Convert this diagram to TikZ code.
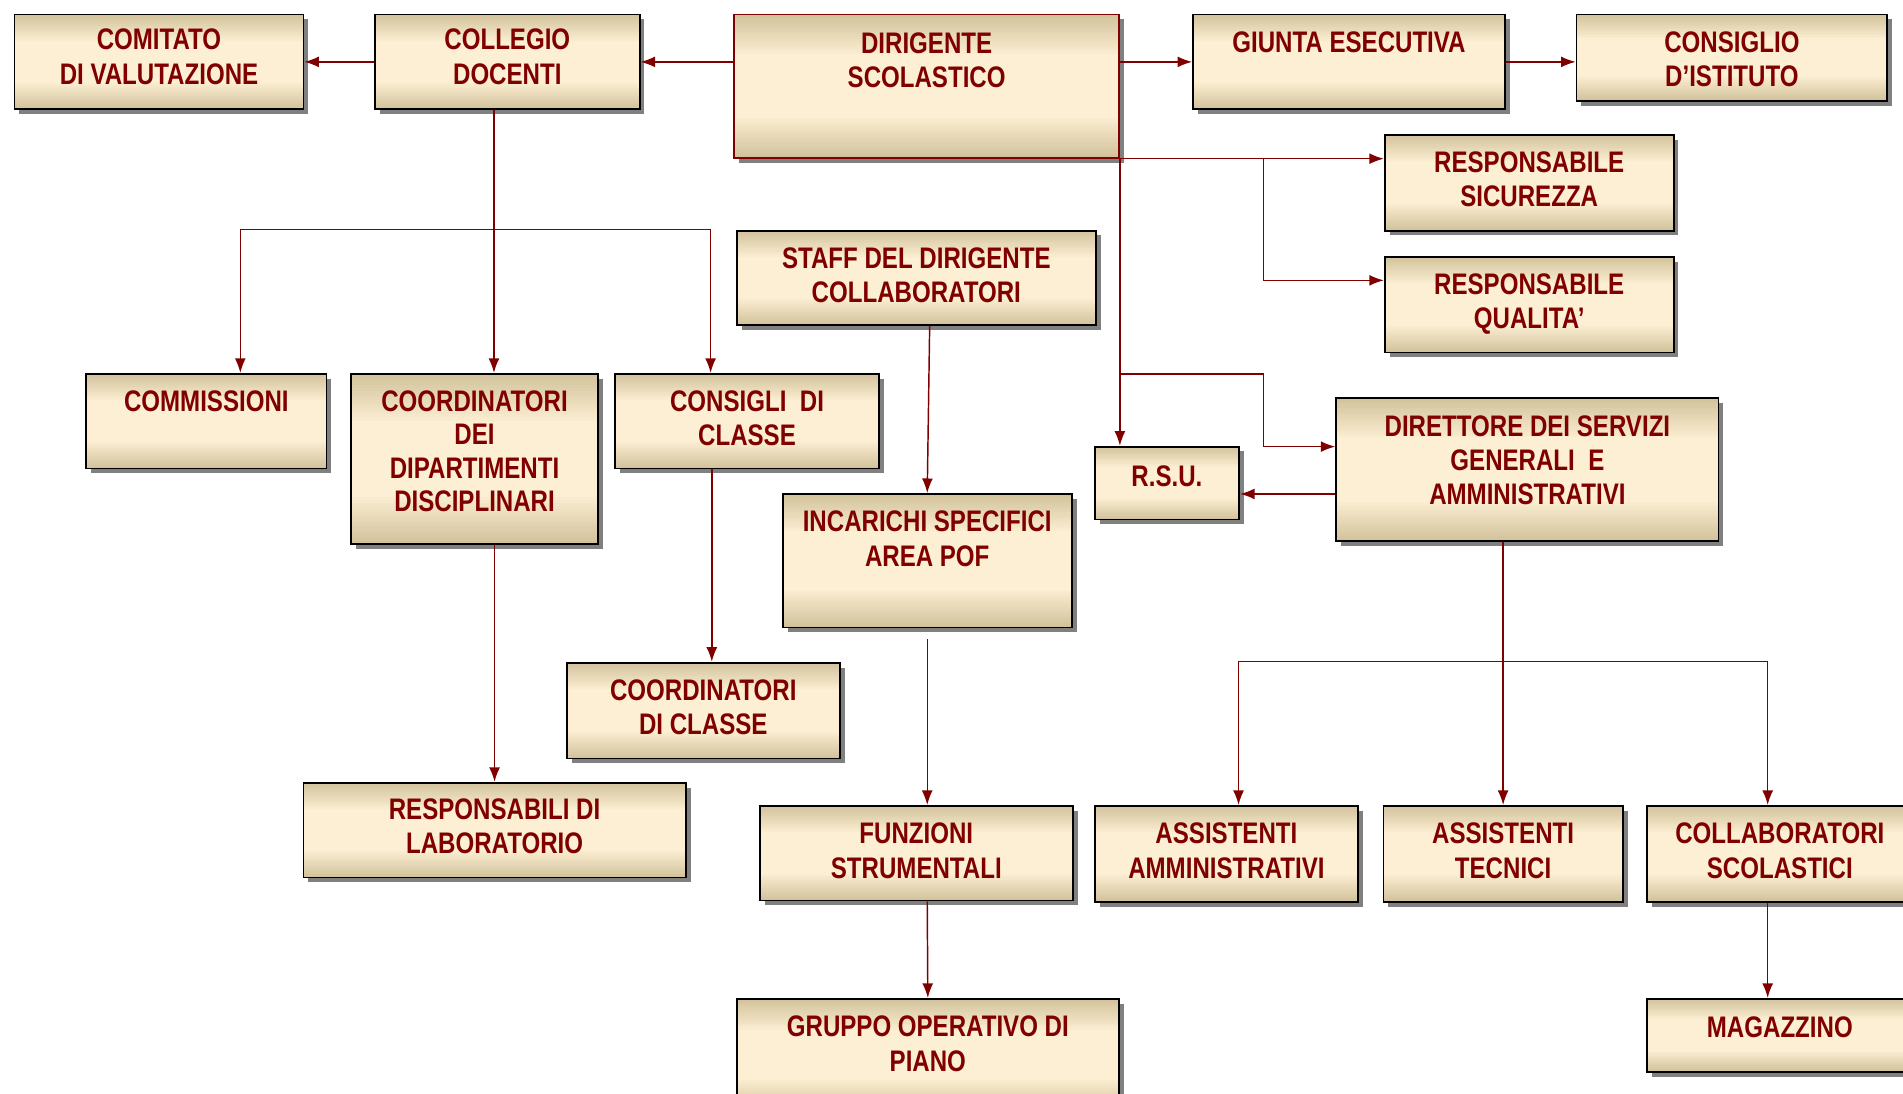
\documentclass[tikz,border=0pt]{standalone}
\usepackage{fontspec}
\setmainfont{Liberation Sans}[FakeStretch=0.81]
\usetikzlibrary{arrows.meta,shadows,positioning,calc}
\definecolor{bordeaux}{HTML}{800000}
\definecolor{crema}{HTML}{FCEFD3}
\definecolor{sabbia}{HTML}{D3C39D}

\begin{document}
\begin{tikzpicture}[x=1pt,y=-1pt,->,>={Latex[length=12pt,width=9pt]},
                    line width=1.2pt,bordeaux]
  \tikzstyle{ente}=[draw=black,line width=1.5pt,inner sep=0pt,fill=crema,
                    path picture={
                      \foreach \i in {0,...,15}{
                        \pgfmathsetmacro\pa{\i*0.017}
                        \pgfmathsetmacro\pb{\pa+0.02}
                        \pgfmathtruncatemacro\pc{100-\i*6}
                        \fill[sabbia!\pc!crema]
                          ($(path picture bounding box.north west)!\pa!(path picture bounding box.south west)$) rectangle
                          ($(path picture bounding box.north east)!\pb!(path picture bounding box.south east)$);
                        \fill[sabbia!\pc!crema]
                          ($(path picture bounding box.south west)!\pa!(path picture bounding box.north west)$) rectangle
                          ($(path picture bounding box.south east)!\pb!(path picture bounding box.north east)$);
                      }},
                    drop shadow={shadow xshift=4pt,shadow yshift=-4pt,fill=black!50,opacity=1}]
  \tikzstyle{dicitura}=[inner sep=0pt,align=center,text=bordeaux,
                        font=\bfseries\fontsize{24.5}{28.5}\selectfont]

  \clip (0,0) rectangle (1568,901);

  % prima fila
  \node[ente,minimum width=238pt,minimum height=78pt]  (com)   at (131,51)     {};
  \node[dicitura,below=12pt of com.north]   (com-t)   {COMITATO\\DI VALUTAZIONE};
  \node[ente,minimum width=218pt,minimum height=78pt]  (col)   at (418,51)     {};
  \node[dicitura,below=12pt of col.north]   (col-t)   {COLLEGIO\\DOCENTI};
  \node[ente,draw=bordeaux,minimum width=317pt,minimum height=118pt] (dir) at (763.5,71) {};
  \node[dicitura,below=15pt of dir.north]   (dir-t)   {DIRIGENTE\\SCOLASTICO};
  \node[ente,minimum width=257pt,minimum height=78pt]  (giu)   at (1111.5,51)  {};
  \node[dicitura,below=14pt of giu.north]   (giu-t)   {GIUNTA ESECUTIVA};
  \node[ente,minimum width=256pt,minimum height=71pt]  (cons)  at (1427,47.5)  {};
  \node[dicitura,below=14pt of cons.north]  (cons-t)  {CONSIGLIO\\D’ISTITUTO};

  % responsabili
  \node[ente,minimum width=238pt,minimum height=79pt]  (rsic)  at (1260,150.5) {};
  \node[dicitura,below=14pt of rsic.north]  (rsic-t)  {RESPONSABILE\\SICUREZZA};
  \node[ente,minimum width=238pt,minimum height=79pt]  (rqual) [below=20pt of rsic] {};
  \node[dicitura,below=14pt of rqual.north] (rqual-t) {RESPONSABILE\\QUALITA’};
  \node[ente,minimum width=296pt,minimum height=78pt]  (staff) at (755,229)    {};
  \node[dicitura,below=14pt of staff.north] (staff-t) {STAFF DEL DIRIGENTE\\COLLABORATORI};

  % seconda fila
  \node[ente,minimum width=198pt,minimum height=78pt]  (comm)  at (170,347)    {};
  \node[dicitura,below=14pt of comm.north]  (comm-t)  {COMMISSIONI};
  \node[ente,minimum width=204pt,minimum height=140pt] (coord) at (391,378)    {};
  \node[dicitura,below=14pt of coord.north,font=\bfseries\fontsize{24.5}{27.5}\selectfont]
                                            (coord-t) {COORDINATORI\\DEI\\DIPARTIMENTI\\DISCIPLINARI};
  \node[ente,minimum width=217pt,minimum height=78pt]  (ccl)   at (615.5,347)  {};
  \node[dicitura,below=14pt of ccl.north]   (ccl-t)   {CONSIGLI\ \ DI\\CLASSE};
  \node[ente,minimum width=238pt,minimum height=110pt] (inc)   at (764,462)    {};
  \node[dicitura,below=14pt of inc.north]   (inc-t)   {INCARICHI SPECIFICI\\AREA POF};
  \node[ente,minimum width=119pt,minimum height=60pt]  (rsu)   at (961.5,398)  {};
  \node[dicitura,below=16pt of rsu.north]   (rsu-t)   {R.S.U.};
  \node[ente,minimum width=315pt,minimum height=118pt] (dsga)  at (1258.5,387) {};
  \node[dicitura,below=15pt of dsga.north,font=\bfseries\fontsize{24.5}{28}\selectfont]
                                            (dsga-t)  {DIRETTORE DEI SERVIZI\\GENERALI\ \ E\\AMMINISTRATIVI};
  \node[ente,minimum width=225pt,minimum height=79pt]  (cocl)  at (579.5,585.5) {};
  \node[dicitura,below=14pt of cocl.north]  (cocl-t)  {COORDINATORI\\DI CLASSE};

  % terza fila
  \node[ente,minimum width=315pt,minimum height=78pt]  (rlab)  at (407.5,684)  {};
  \node[dicitura,below=13pt of rlab.north]  (rlab-t)  {RESPONSABILI DI\\LABORATORIO};
  \node[ente,minimum width=258pt,minimum height=78pt]  (fun)   at (755,703)    {};
  \node[dicitura,below=14pt of fun.north]   (fun-t)   {FUNZIONI\\STRUMENTALI};
  \node[ente,minimum width=217pt,minimum height=79pt]  (aam)   at (1010.5,703.5) {};
  \node[dicitura,below=14pt of aam.north]   (aam-t)   {ASSISTENTI\\AMMINISTRATIVI};
  \node[ente,minimum width=197pt,minimum height=79pt]  (ate)   at (1238.5,703.5) {};
  \node[dicitura,below=14pt of ate.north]   (ate-t)   {ASSISTENTI\\TECNICI};
  \node[ente,minimum width=219pt,minimum height=79pt]  (csc)   at (1466.5,703.5) {};
  \node[dicitura,below=14pt of csc.north]   (csc-t)   {COLLABORATORI\\SCOLASTICI};
  \node[ente,minimum width=315pt,minimum height=92pt]  (gop)   at (764.5,869)  {};
  \node[dicitura,below=14pt of gop.north]   (gop-t)   {GRUPPO OPERATIVO DI\\PIANO};
  \node[ente,minimum width=219pt,minimum height=60pt]  (mag)   at (1466.5,853) {};
  \node[dicitura,below=15pt of mag.north]   (mag-t)   {MAGAZZINO};

  % collegamenti
  \coordinate (nodo1) at (1041,130);
  \coordinate (nodo2) at (922,308);
  \coordinate (nodo3) at (407,189);
  \coordinate (nodo4) at (1238,545);

  \draw (col.west) -- (com.east);
  \draw (dir.west |- col.east) -- (col.east);
  \draw (dir.east |- giu.west) -- (giu.west);
  \draw (giu.east) -- (giu.east -| cons.west);
  \draw (dir.south east) -- (rsic.west |- dir.south east);
  \draw (nodo1) |- ([yshift=20pt]rqual.west);
  \draw (dir.south east) -- (dir.south east |- rsu.north);
  \draw (nodo2) -- (nodo2 -| nodo1) |- ([yshift=19pt]dsga.west);
  \draw ([yshift=-20pt]dsga.west) -- ([yshift=-20pt]dsga.west -| rsu.east);
  \draw ([xshift=-11pt]col.south) -- ([xshift=-11pt]col.south |- coord.north);
  \draw[<->] ([xshift=28pt]comm.north) |- (nodo3) -| ([xshift=-30pt]ccl.north);
  \draw ([xshift=11pt]staff.south) -- (inc.north);
  \draw ([xshift=-29pt]ccl.south) -- ([xshift=-29pt]ccl.south |- cocl.north);
  \draw (coord.south -| rlab.north) -- (rlab.north);
  \draw ([yshift=-9pt]inc.south) -- (inc.south |- fun.north);
  \draw (dsga.south -| ate.north) -- (ate.north);
  \draw[<->] ([xshift=10pt]aam.north) |- (nodo4) -| ([xshift=-10pt]csc.north);
  \draw ([xshift=9pt]fun.south) -- (gop.north);
  \draw ([xshift=-10pt]csc.south) -- ([xshift=-10pt]mag.north);

\end{tikzpicture}
\end{document}
